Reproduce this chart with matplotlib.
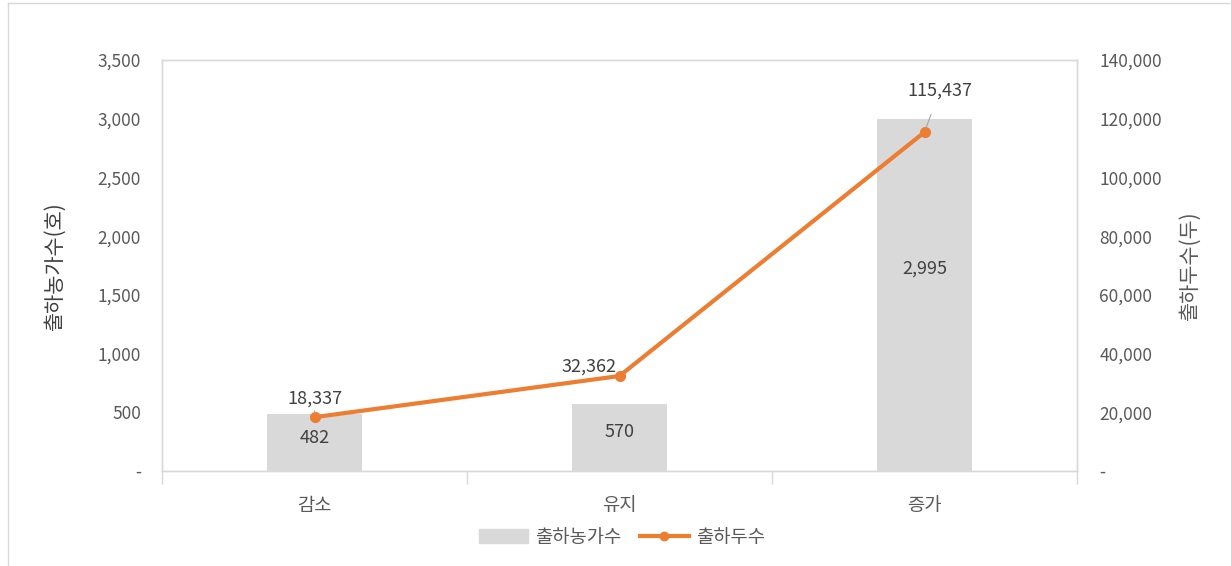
import matplotlib
matplotlib.use("Agg")
import matplotlib.pyplot as plt
from matplotlib.ticker import FuncFormatter, MultipleLocator
from matplotlib.lines import Line2D

plt.rcParams['font.family'] = ['Noto Sans CJK KR', 'DejaVu Sans']

categories = ['감소', '유지', '증가']
farms = [482, 570, 2995]          # 출하농가수(호)
heads = [18337, 32362, 115437]    # 출하두수(두)
left_label = '출하농가수(호)'
right_label = '출하두수(두)'
bar_name = '출하농가수'
line_name = '출하두수'

# label placement (positions, not data)
bar_label_y = [280, 330, 1720]
line_label_xy = [(0.0, 24500), (0.9, 35500), (2.05, 129500)]

txt = '#595959'
grid_c = '#d9d9d9'
bar_c = '#d9d9d9'
line_c = '#ed7d31'

fig = plt.figure(figsize=(12.31, 5.66), dpi=100)
ax = fig.add_axes([162/1231, 1-471/566, (1077-162)/1231, (471-60)/566])
ax2 = ax.twinx()

x = list(range(len(categories)))
ax.bar(x, farms, width=0.31, color=bar_c, zorder=2)
ax.set_xlim(-0.5, 2.5)
ax.set_ylim(0, 3500)
ax2.set_ylim(0, 140000)
ax.yaxis.set_major_locator(MultipleLocator(500))
ax2.yaxis.set_major_locator(MultipleLocator(20000))
fmt = FuncFormatter(lambda v, p: '-' if v == 0 else f'{int(v):,}')
ax.yaxis.set_major_formatter(fmt)
ax2.yaxis.set_major_formatter(fmt)

ax2.plot(x, heads, color=line_c, lw=3, marker='o', ms=7, zorder=5)

for a in (ax, ax2):
    for s in a.spines.values():
        s.set_color(grid_c)
        s.set_linewidth(1.0)
    a.tick_params(axis='y', length=0, colors=txt, labelsize=12.5)
ax.tick_params(axis='y', pad=15)
ax2.tick_params(axis='y', pad=16)

ax.set_xticks(x)
ax.set_xticklabels(categories)
ax.tick_params(axis='x', length=0, colors=txt, labelsize=13.5, pad=17)
ax.set_xticks([-0.5, 0.5, 1.5, 2.5], minor=True)
ax.tick_params(axis='x', which='minor', length=9, color=grid_c, width=1)

ax.set_ylabel(left_label, fontsize=15, color='#404040')
ax.yaxis.set_label_coords(-(162-66)/915, 0.5)
ax2.set_ylabel(right_label, fontsize=15, color='#595959', rotation=90)
ax2.yaxis.set_label_coords(1 + (1179-1077)/915, 0.5)

for i, v in enumerate(farms):
    ax.text(i, bar_label_y[i], f'{v:,}', ha='center', va='center', fontsize=13, color='#404040', zorder=6)

for i, v in enumerate(heads):
    lx, ly = line_label_xy[i]
    ax2.annotate(f'{v:,}', xy=(i, v), xytext=(lx, ly), ha='center', va='center',
                 fontsize=13, color='#404040', zorder=6,
                 arrowprops=dict(arrowstyle='-', color='#a6a6a6', lw=0.8, shrinkA=9, shrinkB=3))

handles = [plt.Rectangle((0, 0), 1, 1, color=bar_c),
           Line2D([0], [0], color=line_c, lw=3, marker='o', ms=6)]
fig.legend(handles, [bar_name, line_name], loc='center', bbox_to_anchor=(622/1231, 1-537/566),
           ncol=2, frameon=False, fontsize=13.5, labelcolor=txt, handlelength=2.6, columnspacing=1.0,
           handletextpad=0.4)

# outer frame
fig.add_artist(Line2D([8/1231, 8/1231], [0, 1-3/566], transform=fig.transFigure, color='#d9d9d9', lw=1))
fig.add_artist(Line2D([8/1231, 1229/1231], [1-3/566, 1-3/566], transform=fig.transFigure, color='#d9d9d9', lw=1))

fig.savefig('out.png', dpi=100)
